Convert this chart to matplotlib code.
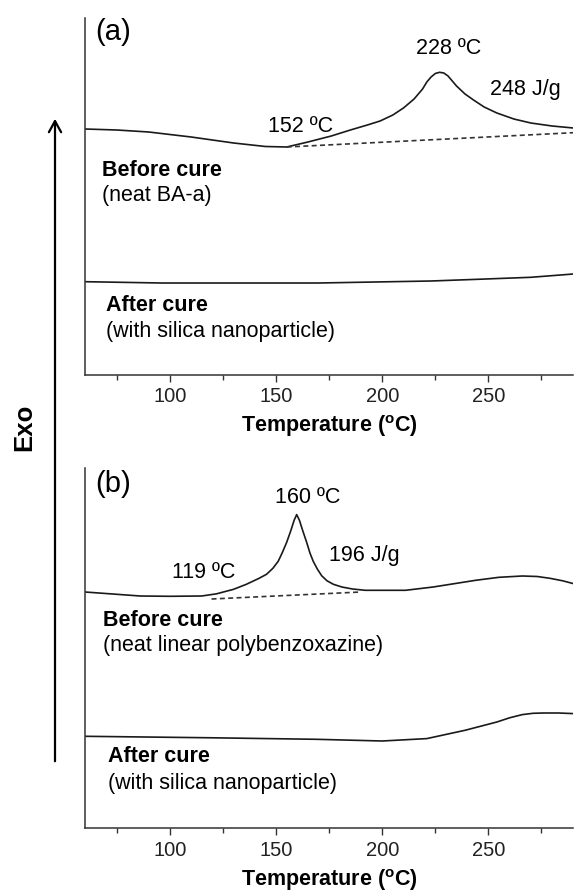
import numpy as np
import matplotlib
matplotlib.use('Agg')
import matplotlib.pyplot as plt
from matplotlib.patches import FancyArrowPatch

plt.rcParams['font.family'] = ['Liberation Sans', 'DejaVu Sans']
plt.rcParams['mathtext.fontset'] = 'custom'
plt.rcParams['mathtext.rm'] = 'Liberation Sans'
plt.rcParams['mathtext.bf'] = 'Liberation Sans:bold'

# datos (temperatura en C, flujo de calor en unidades arbitrarias)
a_before_T = [60, 75, 90, 110, 130, 145, 155, 165, 176, 185, 193, 199, 205, 210, 215, 219, 221, 223, 225, 227,
              229, 231, 233, 235, 239, 243, 248, 254, 262, 270, 280, 290]
a_before_y = [246, 245, 243, 238, 232, 228.5, 228, 233, 239, 245, 250, 254, 260, 267, 276, 286, 293, 298, 301.5, 302.7,
              302, 299, 294, 289, 281, 275, 268, 262, 256, 252, 249, 247]
a_base_T = [155, 290]
a_base_y = [228, 242.3]
a_after_T = [60, 96, 170, 223, 245, 270, 290]
a_after_y = [93.3, 92, 92, 94, 95.7, 97.7, 101]

b_before_T = [60, 86, 100, 115, 122, 130, 136, 142, 145.5, 148.5, 151, 153, 155, 157, 158.5, 159.7, 161, 162.5,
              164.4, 166, 167.5, 169.5, 171.5, 174, 177, 181, 186, 192, 211, 224, 244, 255, 266, 273, 279, 285, 290]
b_before_y = [236.3, 232.3, 232, 232.3, 234.5, 239, 244, 250, 254, 260, 267, 276, 286, 298, 308, 313.7, 308, 298,
              286, 275, 267, 259, 252.5, 247.5, 244, 241.3, 239.3, 238, 238, 241.3, 248, 251, 252.3, 251.8, 250, 247.5, 244.7]
b_base_T = [119.6, 190]
b_base_y = [229.3, 236.3]
b_after_T = [60, 120, 169, 200, 221, 239, 254, 260, 266, 271, 276, 283, 290]
b_after_y = [92, 90.5, 89, 87.3, 89.7, 98, 106.3, 110.5, 113.7, 115, 115.3, 115.3, 114.7]

major_ticks = [100, 150, 200, 250]
minor_ticks = [75, 125, 175, 225, 275]

W, H = 576, 893
fig = plt.figure(figsize=(W / 100, H / 100), dpi=100)

lc = '#1a1a1a'
fs = 15.5

def make_ax(top_px, bot_px):
    ax = fig.add_axes([85 / W, 1 - bot_px / H, (573.3 - 85) / W, (bot_px - top_px) / H])
    ax.set_xlim(60, 290)
    ax.set_ylim(0, bot_px - top_px)
    for s in ['top', 'right']:
        ax.spines[s].set_visible(False)
    for s in ['left', 'bottom']:
        ax.spines[s].set_linewidth(1.1)
        ax.spines[s].set_color('#333333')
    ax.set_yticks([])
    ax.set_xticks(major_ticks)
    ax.set_xticks(minor_ticks, minor=True)
    ax.tick_params(axis='x', which='major', length=5, width=1, pad=4, labelsize=14.5, colors='#333333', labelcolor='#222222')
    ax.tick_params(axis='x', which='minor', length=3.5, width=1, colors='#333333')
    ax.set_xlabel(r'Temperature ($\mathbf{^{o}}$C)', fontsize=15.5, fontweight='bold', labelpad=5)
    return ax

# panel (a)
ax1 = make_ax(18, 375)
ax1.plot(a_before_T, a_before_y, color=lc, lw=1.2)
ax1.plot(a_base_T, a_base_y, color='#333333', lw=1.2, ls=(0, (3, 2)))
ax1.plot(a_after_T, a_after_y, color=lc, lw=1.2)
ax1.text(65, 342.5, '(a)', fontsize=21, va='center', ha='left')
ax1.text(231.5, 326.5, '228 ºC', fontsize=fs, va='center', ha='center')
ax1.text(250.8, 286, '248 J/g', fontsize=fs, va='center', ha='left')
ax1.text(161.3, 249, '152 ºC', fontsize=fs, va='center', ha='center')
ax1.text(68, 205, 'Before cure', fontsize=fs, fontweight='bold', va='center', ha='left')
ax1.text(68, 180, '(neat BA-a)', fontsize=fs, va='center', ha='left')
ax1.text(70, 69.5, 'After cure', fontsize=fs, fontweight='bold', va='center', ha='left')
ax1.text(70, 44, '(with silica nanoparticle)', fontsize=fs, va='center', ha='left')

# panel (b)
ax2 = make_ax(467.7, 828.3)
ax2.plot(b_before_T, b_before_y, color=lc, lw=1.2)
ax2.plot(b_base_T, b_base_y, color='#333333', lw=1.2, ls=(0, (3, 2)))
ax2.plot(b_after_T, b_after_y, color=lc, lw=1.2)
ax2.text(64.7, 344.3, '(b)', fontsize=21, va='center', ha='left')
ax2.text(165, 330.8, '160 ºC', fontsize=fs, va='center', ha='center')
ax2.text(175.1, 272.8, '196 J/g', fontsize=fs, va='center', ha='left')
ax2.text(115.7, 255.8, '119 ºC', fontsize=fs, va='center', ha='center')
ax2.text(68.6, 207.8, 'Before cure', fontsize=fs, fontweight='bold', va='center', ha='left')
ax2.text(68.6, 183.3, '(neat linear polybenzoxazine)', fontsize=fs, va='center', ha='left')
ax2.text(71, 71.3, 'After cure', fontsize=fs, fontweight='bold', va='center', ha='left')
ax2.text(71, 45.3, '(with silica nanoparticle)', fontsize=fs, va='center', ha='left')

# flecha Exo
arr = FancyArrowPatch((55 / W, 1 - 764 / H), (55 / W, 1 - 116 / H), transform=fig.transFigure,
                      arrowstyle='->,head_length=0.4,head_width=0.22', mutation_scale=20,
                      lw=1.6, color='black')
fig.patches.append(arr)
fig.text(24 / W, 1 - 427.5 / H, 'Exo', rotation=90, fontsize=18.5, fontweight='bold', ha='center', va='center')

fig.savefig('out.png', dpi=100)
